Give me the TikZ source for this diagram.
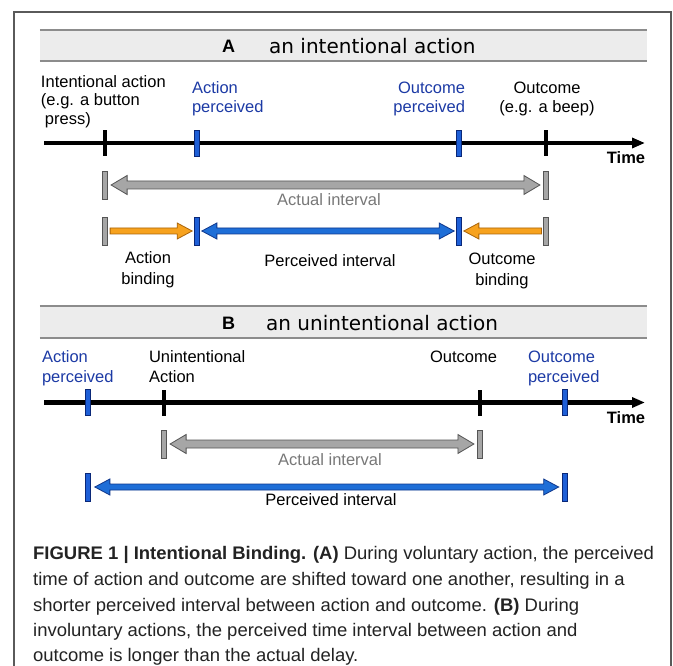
\documentclass[tikz,border=0pt]{standalone}
\usepackage{fontspec}
\setmainfont{Liberation Sans}
\newfontfamily\headfont{DejaVu Sans}
\newfontfamily\capfont[FakeStretch=1.015]{Liberation Sans}
\usetikzlibrary{arrows.meta,calc}
\pgfdeclarelayer{background}
\pgfsetlayers{background,main}

\definecolor{txtblue}{RGB}{28,58,165}
\definecolor{barblue}{RGB}{30,95,215}
\definecolor{barblueedge}{RGB}{10,40,120}
\definecolor{arrblue}{RGB}{30,110,215}
\definecolor{arrblueedge}{RGB}{15,55,140}
\definecolor{orfill}{RGB}{247,162,30}
\definecolor{oredge}{RGB}{170,100,10}
\definecolor{grfill}{RGB}{166,166,166}
\definecolor{gredge}{RGB}{85,85,85}
\definecolor{hdrfill}{RGB}{236,236,236}
\definecolor{hdrline}{RGB}{140,140,140}
\definecolor{guidec}{RGB}{195,195,195}
\definecolor{actxt}{RGB}{120,120,120}
\definecolor{framec}{RGB}{90,90,90}
\definecolor{captxt}{RGB}{35,35,35}

\tikzset{
  lbl/.style={font=\fontsize{16.5}{18.5}\selectfont, inner sep=0pt, outer sep=0pt},
  widelbl/.style={font=\fontsize{16.5}{20.5}\selectfont, inner sep=0pt, outer sep=0pt},
  timelbl/.style={font=\fontsize{16.5}{18.5}\selectfont\bfseries, inner sep=0pt},
  hdrband/.style={fill=hdrfill, draw=none, minimum width=607pt, minimum height=31pt, inner sep=0pt},
  hdrrule/.style={draw=hdrline, line width=1.8pt},
  hdrletter/.style={font=\fontsize{18}{20}\selectfont\bfseries, inner sep=0pt},
  hdrtext/.style={font=\headfont\fontsize{20}{22}\selectfont, inner sep=0pt},
  timeline/.style={line width=4.5pt, -{Triangle[length=13pt,width=10pt]}},
  blacktick/.style={rectangle, fill=black, minimum width=4.5pt, minimum height=26pt, inner sep=0pt},
  bluetick/.style={rectangle, fill=barblue, draw=barblueedge, line width=0.6pt, minimum width=5pt, minimum height=26pt, inner sep=0pt},
  graybar/.style={rectangle, fill=grfill, draw=gredge, line width=0.7pt, minimum width=5.5pt, minimum height=28pt, inner sep=0pt},
  bluebar/.style={rectangle, fill=barblue, draw=barblueedge, line width=0.7pt, minimum width=5pt, minimum height=28pt, inner sep=0pt},
  guide/.style={draw=guidec, line width=0.8pt},
  dblarr/.style n args={3}{to path={let \p1=(\tikztostart),\p2=(\tikztotarget) in
     (\x1,\y1) -- (\x1+#3,\y1+#2) -- (\x1+#3,\y1+#1) -- (\x2-#3,\y1+#1) -- (\x2-#3,\y1+#2) -- (\x2,\y1)
     -- (\x2-#3,\y1-#2) -- (\x2-#3,\y1-#1) -- (\x1+#3,\y1-#1) -- (\x1+#3,\y1-#2) -- cycle}},
  rarr/.style n args={3}{to path={let \p1=(\tikztostart),\p2=(\tikztotarget) in
     (\x1,\y1+#1) -- (\x2-#3,\y1+#1) -- (\x2-#3,\y1+#2) -- (\x2,\y1) -- (\x2-#3,\y1-#2) -- (\x2-#3,\y1-#1) -- (\x1,\y1-#1) -- cycle}},
  larr/.style n args={3}{to path={let \p1=(\tikztostart),\p2=(\tikztotarget) in
     (\x1,\y1+#1) -- (\x2+#3,\y1+#1) -- (\x2+#3,\y1+#2) -- (\x2,\y1) -- (\x2+#3,\y1-#2) -- (\x2+#3,\y1-#1) -- (\x1,\y1-#1) -- cycle}},
  grayarrow/.style={fill=grfill, draw=gredge, line width=0.8pt, line join=miter, dblarr={4pt}{9.5pt}{16pt}},
  bluearrow/.style={fill=arrblue, draw=arrblueedge, line width=0.8pt, line join=miter, dblarr={3pt}{8pt}{15pt}},
  orangeright/.style={fill=orfill, draw=oredge, line width=0.8pt, line join=miter, rarr={3pt}{8pt}{15pt}},
  orangeleft/.style={fill=orfill, draw=oredge, line width=0.8pt, line join=miter, larr={3pt}{8pt}{15pt}},
  captionline/.style={font=\capfont\fontsize{18.2}{26}\selectfont, text=captxt, inner sep=0pt, anchor=base west},
}

\begin{document}
\begin{tikzpicture}[x=1pt, y=-1pt]
\useasboundingbox (0,0) rectangle (673,666);
\fill[white] (0,0) rectangle (673,666);

% outer frame
\draw[framec, line width=1.2pt] (14,666) -- (14,12) -- (671,12) -- (671,666);

% ================= A =================
\node[hdrband] (hA) at (343.5,45.5) {};
\draw[hdrrule] (hA.north west) -- (hA.north east);
\draw[hdrrule] (hA.south west) -- (hA.south east);
\node[hdrletter] (hAl) at (228.5,46) {A};
\node[hdrtext, anchor=west] (hAt) at (269,46) {an intentional action};

\node[lbl, align=left, anchor=north west] (lIA) at (41,75.5) {Intentional action\\(e.g. a button\\\hspace*{4pt}press)};
\node[lbl, text=txtblue, align=left, anchor=north west] (lAP) at (192,82) {Action\\perceived};
\node[lbl, text=txtblue, align=right, anchor=north east] (lOP) at (465,82) {Outcome\\perceived};
\node[lbl, align=center, anchor=north] (lOC) at (547,82) {Outcome\\(e.g. a beep)};

\coordinate (tA0) at (44,143);
\coordinate (tA1) at (645,143);
\draw[timeline] (tA0) -- (tA1);
\node[timelbl] (timeA) at (626,158) {Time};

\node[blacktick] (kA1) at (105,143) {};
\node[bluetick]  (kA2) at (197,143) {};
\node[bluetick]  (kA3) at (459,143) {};
\node[blacktick] (kA4) at (546,143) {};

\node[graybar] (gA1) at (105,185) {};
\node[graybar] (gA4) at (546,185) {};
\node[graybar] (hA1) at (105,231) {};
\node[bluebar] (bA2) at (197,231) {};
\node[bluebar] (bA3) at (459,231) {};
\node[graybar] (hA4) at (546,231) {};

\begin{pgfonlayer}{background}
\draw[guide] (kA1) -- (hA1);
\draw[guide] (kA2) -- (bA2);
\draw[guide] (kA3) -- (bA3);
\draw[guide] (kA4) -- (hA4);
\end{pgfonlayer}

\draw[grayarrow] ([xshift=3pt]gA1.east) to ([xshift=-3pt]gA4.west);
\node[lbl, text=actxt] (lActA) at (329,200) {Actual interval};

\draw[orangeright] ([xshift=2pt]hA1.east) to ([xshift=-2pt]bA2.west);
\draw[bluearrow] ([xshift=2pt]bA2.east) to ([xshift=-2pt]bA3.west);
\draw[orangeleft] ([xshift=-1.5pt]hA4.west) to ([xshift=2pt]bA3.east);

\node[widelbl, align=center, anchor=north] (lAB) at (148,252) {Action\\binding};
\node[lbl] (lPIA) at (330,261) {Perceived interval};
\node[widelbl, align=center, anchor=north] (lOB) at (502,253) {Outcome\\binding};

% ================= B =================
\node[hdrband] (hB) at (343.5,322) {};
\draw[hdrrule] (hB.north west) -- (hB.north east);
\draw[hdrrule] (hB.south west) -- (hB.south east);
\node[hdrletter] (hBl) at (228.5,323) {B};
\node[hdrtext, anchor=west] (hBt) at (266,323) {an unintentional action};

\node[widelbl, text=txtblue, align=left, anchor=north west] (lAPB) at (42,350.5) {Action\\perceived};
\node[widelbl, align=left, anchor=north west] (lUA) at (149,350.5) {Unintentional\\Action};
\node[lbl, anchor=north east] (lOCB) at (497,350.5) {Outcome};
\node[widelbl, text=txtblue, align=left, anchor=north west] (lOPB) at (528,350.5) {Outcome\\perceived};

\coordinate (tB0) at (44,402.5);
\coordinate (tB1) at (645,402.5);
\draw[timeline] (tB0) -- (tB1);
\node[timelbl] (timeB) at (626,418) {Time};

\node[bluetick]  (kB1) at (88,402.5) {};
\node[blacktick] (kB2) at (164,402.5) {};
\node[blacktick] (kB3) at (480,402.5) {};
\node[bluetick]  (kB4) at (565,402.5) {};

\node[graybar] (gB2) at (164,444) {};
\node[graybar] (gB3) at (480,444) {};
\node[bluebar] (bB1) at (88,487) {};
\node[bluebar] (bB4) at (565,487) {};

\begin{pgfonlayer}{background}
\draw[guide] (kB1) -- (bB1);
\draw[guide] (kB2) -- (kB2 |- bB1);
\draw[guide] (kB3) -- (kB3 |- bB1);
\draw[guide] (kB4) -- (bB4);
\end{pgfonlayer}

\draw[grayarrow] ([xshift=3pt]gB2.east) to ([xshift=-3pt]gB3.west);
\node[lbl, text=actxt] (lActB) at (330,460) {Actual interval};
\draw[bluearrow] ([xshift=4pt]bB1.east) to ([xshift=-3.5pt]bB4.west);
\node[lbl] (lPIB) at (331,500) {Perceived interval};

% ================= caption =================
\node[captionline] (c1) at (33,559) {\textbf{FIGURE 1 | Intentional Binding. (A)} During voluntary action, the perceived};
\node[captionline] (c2) at (33,585) {time of action and outcome are shifted toward one another, resulting in a};
\node[captionline] (c3) at (33,611) {shorter perceived interval between action and outcome. \textbf{(B)} During};
\node[captionline] (c4) at (33,636) {involuntary actions, the perceived time interval between action and};
\node[captionline] (c5) at (33,661) {outcome is longer than the actual delay.};
\end{tikzpicture}
\end{document}
